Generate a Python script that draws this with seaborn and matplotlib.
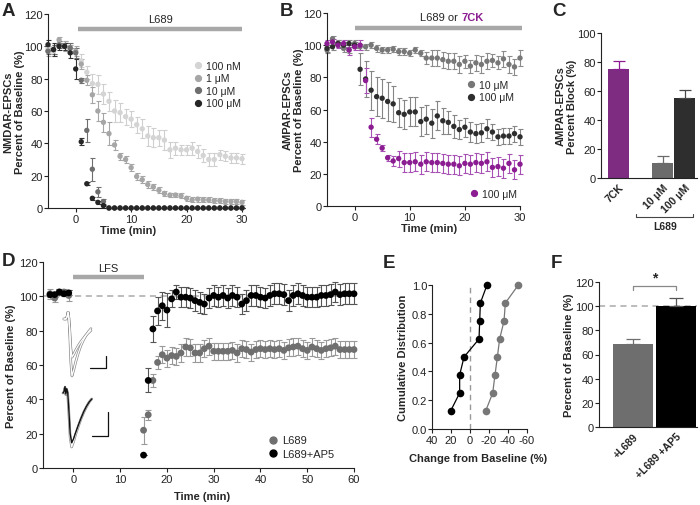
import numpy as np
import pandas as pd
import matplotlib
matplotlib.use("Agg")
import matplotlib.pyplot as plt
from matplotlib.lines import Line2D
from matplotlib.ticker import FormatStrFormatter
import seaborn as sns

# ---------------- data ----------------
t_A = list(range(-5, 31))
nmda_100nM = [99, 97, 101, 100, 98, 96, 91, 84, 77, 76.5, 70.5, 66, 60, 59, 56.5, 55, 51.5, 49,
              44.5, 43.5, 43.5, 42, 36, 37, 36, 36, 37, 35, 32.5, 30, 30, 33, 32, 31, 31, 30.5]
nmda_100nM_err = [3, 3, 2, 3, 3, 3, 4] + [4, 6, 6, 6, 6, 7, 6, 5, 5, 5, 6, 6, 6, 5, 6, 5, 4, 3, 3,
                                           4, 4, 4, 4, 4, 3, 3, 3, 3, 3]
nmda_1uM = [97, 98, 104, 100, 99, 97, 89, 79, 70, 60, 53, 46, 39, 32, 30, 25, 19.5, 17.5, 14.5,
            13, 11, 9, 8, 8, 7.5, 6, 5, 5.5, 5, 5, 4.5, 4.5, 4, 4, 4, 3.5]
nmda_1uM_err = [3, 3, 2, 3, 2, 3, 3] + [3, 5, 6, 6, 7, 3, 2] + [2] * 7 + [1.5] * 15
nmda_10uM = [97, 98, 101, 100, 99, 96, 79, 48, 24, 10, 4] + [0] * 25
nmda_10uM_err = [2, 3, 2, 2, 3, 3, 1.5, 7, 7, 3, 1.5] + [0] * 25
nmda_100uM = [101, 98, 100, 100, 96, 86, 41, 15, 6, 3.5, 1.5] + [0] * 25
nmda_100uM_err = [3, 4, 2, 2, 3, 6, 2, 1, 1, 1, 0.5] + [0] * 25
A_labels = ["100 nM", "1 μM", "10 μM", "100 μM"]

t_B = list(range(-5, 31))
ampa_10uM = [97, 104, 101, 98, 97, 101, 99, 99, 100, 98, 97, 97, 97.5, 96, 96, 95, 97, 95, 92, 92,
             92, 91, 90, 90, 88, 90, 87, 89, 88, 90, 90.5, 89, 91.5, 88, 86.5, 92]
ampa_10uM_err = [2] * 18 + [4, 5, 5, 5, 5, 5, 5, 4, 4, 5, 5, 5, 4, 4, 5, 5, 5, 5]
ampa_100uM = [98, 99, 101, 100, 101, 100, 85, 79, 72, 68, 67, 65, 63.5, 58, 57, 58.5, 58.5, 52.5,
              54, 51.5, 56, 53, 52, 49.5, 47.5, 49, 46, 45, 45.5, 48, 46, 43, 43.5, 43.5, 45, 43]
ampa_100uM_err = [2] * 6 + [10, 11, 12, 12, 12, 12, 11, 9, 9, 9, 9, 9, 9, 9, 9, 8, 7, 7, 6, 6,
                            6, 6, 6, 6, 5, 5, 5, 5, 5, 5]
ampa_7ck = [101, 102, 100, 101, 97, 99, 100, 78, 49, 41.5, 36, 30, 28, 29.5, 27, 27, 27.5, 26, 27.5,
            27, 27, 26.5, 26, 26, 25, 26.5, 26, 27, 26.5, 27.5, 24, 24.5, 23.5, 26.5, 22.5, 26]
ampa_7ck_err = [2, 2, 2, 2, 3, 2, 3] + [8, 6, 3, 2, 2, 3, 5] + [6] * 22

C_labels = ["7CK", "10 μM", "100 μM"]
C_block = [75, 10.5, 55]
C_err = [6, 4.5, 6]

t_D = [-5, -4, -3, -2, -1] + list(range(15, 61))
D_l689 = [101.5, 99, 102.5, 102.5, 100.5, 22, 31, 51, 61.5, 66, 64, 65.5, 65, 67, 70.5, 70, 67, 67,
          69.5, 71, 68, 68, 68, 68, 68.5, 67, 69.5, 69, 67.5, 69, 69.5, 69, 69.5, 69, 69.5, 68.5,
          70, 70.5, 71, 69.5, 68.5, 70.5, 69.5, 68.5, 69.5, 70, 71, 69, 69, 69, 69]
D_l689_err = [3, 2.5, 1.5, 2, 3] + [8, 3, 4, 4, 5] + [5] * 41
D_ap5 = [101, 101, 102.5, 101.5, 102, 7.5, 51, 81, 91.5, 94.5, 92, 98.5, 102.5, 99.5, 99.5, 99,
         97.5, 96.5, 95.5, 99, 100.5, 99.5, 100.5, 99, 100.5, 99.5, 95.5, 97.5, 100.5, 100.5, 99.5,
         99, 100.5, 101.5, 101.5, 101, 97.5, 100.5, 101.5, 100.5, 99.5, 99.5, 99.5, 100.5, 100.5,
         101, 102.5, 101, 101.5, 101.5, 101.5]
D_ap5_err = [1.5] * 5 + [0, 7, 7.5, 8, 8, 10, 5, 4] + [6] * 38
D_labels = ["L689", "L689+AP5"]

E_cum = [0.125, 0.25, 0.375, 0.5, 0.625, 0.75, 0.875, 1.0]
E_ap5 = [20.4, 10.9, 10.9, 6.3, -9.5, -10.2, -10.9, -17.9]
E_l689 = [-16.5, -23.9, -26.3, -28.8, -31.2, -35.8, -37.2, -50.9]

F_labels = ["+L689", "+L689 +AP5"]
F_vals = [68.5, 100.5]
F_err = [4, 6]

# example traces (inset, normalised amplitude)
tr1_t = [3.0, 4.6, 5.6, 6.2, 6.8, 7.4, 8.3, 9.2, 10.5, 12, 14, 16, 18, 20, 22, 23.8]
tr1_big = [0, 0, 0.05, 0.12, 0.02, -0.2, -0.75, -1.0, -0.9, -0.76, -0.6, -0.47, -0.37, -0.29, -0.22, -0.17]
tr1_small = [0, 0, 0.05, 0.12, 0.02, -0.15, -0.5, -0.67, -0.62, -0.55, -0.47, -0.4, -0.34, -0.28, -0.24, -0.2]
tr2_t = [3.7, 4.5, 5.2, 5.8, 6.5, 7.2, 8, 9, 10.1, 11.5, 13, 15, 17, 19, 21, 23, 25]
tr2_black = [0, 0.03, 0.12, -0.02, 0.08, 0.0, -0.3, -0.75, -0.92, -0.85, -0.74, -0.6, -0.47, -0.35, -0.25, -0.17, -0.11]
tr2_gray = [0, 0.02, 0.1, -0.03, 0.06, -0.02, -0.35, -0.82, -1.0, -0.9, -0.77, -0.62, -0.48, -0.36, -0.26, -0.17, -0.11]

# ---------------- style ----------------
sns.set_style("ticks")
plt.rcParams['font.family'] = ['Liberation Sans', 'DejaVu Sans']
plt.rcParams['axes.unicode_minus'] = False
plt.rcParams.update({
    'axes.linewidth': 0.8, 'axes.edgecolor': '#222222',
    'xtick.major.width': 0.8, 'ytick.major.width': 0.8,
    'xtick.major.size': 3, 'ytick.major.size': 3,
    'xtick.labelsize': 8, 'ytick.labelsize': 8,
    'xtick.major.pad': 1.2, 'ytick.major.pad': 0.6,
    'xtick.color': '#222222', 'ytick.color': '#222222',
})

PURPLE = '#8b1c91'
W, H = 700, 506
fig = plt.figure(figsize=(7, 5.06), dpi=100)


def add_ax(l, t, r, b):
    return fig.add_axes([l / W, 1 - b / H, (r - l) / W, (b - t) / H])


def series(ax, x, y, err, color, ecolor, s, cap=1.8):
    ax.errorbar(x, y, yerr=err, fmt='none', ecolor=ecolor, elinewidth=0.8, capsize=cap,
                capthick=0.8, zorder=2, clip_on=False)
    sns.scatterplot(x=x, y=y, color=color, s=s, edgecolor='none', linewidth=0, ax=ax,
                    zorder=3, clip_on=False)


def style(ax):
    sns.despine(ax=ax)
    ax.tick_params(direction='out')


def legend(ax, labels, colors, anchor, ms=4.2, fs=7.5, spacing=0.25):
    handles = [Line2D([], [], ls='none', marker='o', ms=ms, mfc=c, mec=c) for c in colors]
    return ax.legend(handles, labels, loc='upper left', bbox_to_anchor=anchor, frameon=False,
                     handlelength=0.6, handletextpad=0.5, labelspacing=spacing,
                     borderaxespad=0, borderpad=0, fontsize=fs)


def ylab(ax, text, xpos):
    ax.set_ylabel(text, fontsize=8, fontweight='bold', linespacing=1.15)
    ax.yaxis.set_label_coords(xpos, 0.5)


def letter(x, y, s):
    fig.text(x / W, 1 - y / H, s, fontsize=13.5, fontweight='bold', va='center', ha='left')


# ---------------- A ----------------
axA = add_ax(48, 15, 242, 209)
A_cols = ['#d4d4d4', '#a6a6a6', '#6e6e6e', '#262626']
A_ecols = ['#cfcfcf', '#a6a6a6', '#6e6e6e', '#333333']
for vals, err, c, ec in zip([nmda_100nM, nmda_1uM, nmda_10uM, nmda_100uM],
                            [nmda_100nM_err, nmda_1uM_err, nmda_10uM_err, nmda_100uM_err],
                            A_cols, A_ecols):
    series(axA, t_A, vals, err, c, ec, 15)
axA.set_xlim(-5, 30)
axA.set_ylim(0, 120)
axA.set_xticks([0, 10, 20, 30])
axA.set_yticks(range(0, 121, 20))
style(axA)
axA.plot([0.5, 30], [111, 111], color='#a8a8a8', lw=3.2, solid_capstyle='butt', clip_on=False)
axA.text(15.3, 117, "L689", ha='center', va='center', fontsize=8)
legend(axA, A_labels, A_cols, (0.755, 0.76))
ylab(axA, "NMDAR-EPSCs\nPercent of Baseline (%)", -0.12)
axA.set_xlabel("Time (min)", fontsize=8, fontweight='bold')
axA.xaxis.set_label_coords(0.415, -0.09)
letter(2, 12, "A")

# ---------------- B ----------------
axB = add_ax(327, 14, 520, 207)
series(axB, t_B, ampa_10uM, ampa_10uM_err, '#777777', '#8c8c8c', 15)
series(axB, t_B, ampa_100uM, ampa_100uM_err, '#2e2e2e', '#858585', 15)
series(axB, t_B, ampa_7ck, ampa_7ck_err, PURPLE, '#a651b3', 15)
axB.set_xlim(-5, 30)
axB.set_ylim(0, 120)
axB.set_xticks([0, 10, 20, 30])
axB.set_yticks(range(0, 121, 20))
style(axB)
axB.plot([0, 30.3], [110.7, 110.7], color='#a8a8a8', lw=3.2, solid_capstyle='butt', clip_on=False)
axB.text(19.3, 117.5, "L689 or ", ha='right', va='center', fontsize=8)
axB.text(19.4, 117.5, "7CK", ha='left', va='center', fontsize=8, fontweight='bold', color=PURPLE)
lb1 = legend(axB, ["10 μM", "100 μM"], ['#777777', '#2e2e2e'], (0.73, 0.655))
axB.add_artist(lb1)
legend(axB, ["100 μM"], [PURPLE], (0.745, 0.09))
ylab(axB, "AMPAR-EPSCs\nPercent of Baseline (%)", -0.12)
axB.set_xlabel("Time (min)", fontsize=8, fontweight='bold')
axB.xaxis.set_label_coords(0.53, -0.09)
letter(280, 12, "B")

# ---------------- C ----------------
axC = add_ax(601, 34, 697, 179)
dfC = pd.DataFrame({"cond": C_labels, "block": C_block})
C_pal = {"7CK": PURPLE, "10 μM": '#6b6b6b', "100 μM": '#2e2e2e'}
sns.barplot(data=dfC, x="cond", y="block", hue="cond", order=["7CK", "", "10 μM", "100 μM"],
            hue_order=C_labels, palette=C_pal, legend=False, errorbar=None, width=0.95,
            edgecolor='none', ax=axC)
bars = sorted([p for p in axC.patches if p.get_height() > 0], key=lambda p: p.get_x())
bx = [p.get_x() + p.get_width() / 2 for p in bars]
for x, v, e, c in zip(bx, C_block, C_err, [PURPLE, '#6b6b6b', '#4a4a4a']):
    axC.errorbar([x], [v], yerr=[[0], [e]], fmt='none', ecolor=c, elinewidth=0.9, capsize=4,
                 capthick=0.9, zorder=3)
axC.set_xlim(-0.8, 3.56)
axC.set_ylim(0, 100)
axC.set_yticks(range(0, 101, 20))
axC.set_xticks(bx)
axC.set_xticklabels(C_labels, rotation=45, ha='right', rotation_mode='anchor',
                    fontsize=7.5, fontweight='bold')
axC.tick_params(axis='x', length=0, pad=3)
style(axC)
axC.set_xlabel("")
ylab(axC, "AMPAR-EPSCs\nPercent Block (%)", -0.25)
trC = axC.get_xaxis_transform()
axC.plot([0.77, 0.77, 3.4, 3.4], [-0.248, -0.269, -0.269, -0.248], color='#444444', lw=0.8,
         transform=trC, clip_on=False)
axC.text(2.1, -0.295, "L689", ha='center', va='top', fontsize=7.5, fontweight='bold',
         transform=trC)
letter(552, 12, "C")

# ---------------- D ----------------
axD = add_ax(43, 263, 354, 469)
axD.axhline(100, color='#aaaaaa', lw=1.1, ls=(0, (4, 3)), zorder=1)
series(axD, t_D, D_l689, D_l689_err, '#6f6f6f', '#9a9a9a', 24, cap=2)
series(axD, t_D, D_ap5, D_ap5_err, '#000000', '#555555', 24, cap=2)
axD.set_xlim(-6.5, 60)
axD.set_ylim(0, 120)
axD.set_xticks(range(0, 61, 10))
axD.set_yticks(range(0, 121, 20))
style(axD)
axD.plot([0, 15], [111.4, 111.4], color='#a8a8a8', lw=3.2, solid_capstyle='butt', clip_on=False)
axD.text(7.5, 116.5, "LFS", ha='center', va='center', fontsize=8)
legend(axD, D_labels, ['#6f6f6f', '#000000'], (0.73, 0.158), ms=5, fs=8, spacing=0.35)
ylab(axD, "Percent of Baseline (%)", -0.086)
axD.set_xlabel("Time (min)", fontsize=8, fontweight='bold')
axD.xaxis.set_label_coords(0.51, -0.11)
letter(2, 262, "D")

# insets with example traces
in1 = add_ax(60, 312, 112, 382)
in1.set_xlim(0, 40)
in1.set_ylim(-1.088, 0.14)
in1.axis('off')
for tr in (tr1_big, tr1_small):
    in1.plot(tr1_t, tr, color='#8a8a8a', lw=1.9, solid_joinstyle='round')
for tr in (tr1_big, tr1_small):
    in1.plot(tr1_t, tr, color='white', lw=0.9, solid_joinstyle='round')
in1.plot([23, 35.4, 35.4], [-0.86, -0.86, -0.65], color='#111111', lw=0.9)

in2 = add_ax(58, 385, 112, 455)
in2.set_xlim(0, 40)
in2.set_ylim(-1.13, 0.167)
in2.axis('off')
in2.plot(tr2_t, tr2_gray, color='#8a8a8a', lw=1.9, solid_joinstyle='round')
in2.plot(tr2_t, tr2_gray, color='white', lw=0.9, solid_joinstyle='round')
in2.plot(tr2_t, tr2_black, color='#111111', lw=1.0, solid_joinstyle='round')
in2.plot([25.2, 37, 37], [-0.80, -0.80, -0.35], color='#111111', lw=0.9)

# ---------------- E ----------------
axE = add_ax(432, 286, 527, 430)
axE.axvline(0, color='#999999', lw=1.0, ls=(0, (4, 3)), zorder=1)
sns.lineplot(x=E_ap5, y=E_cum, sort=False, estimator=None, color='#000000', lw=0.9,
             marker='o', markersize=5.5, markeredgewidth=0, ax=axE)
sns.lineplot(x=E_l689, y=E_cum, sort=False, estimator=None, color='#777777', lw=0.9,
             marker='o', markersize=5.5, markeredgewidth=0, ax=axE)
axE.set_xlim(40, -60)
axE.set_ylim(0, 1.0)
axE.set_xticks([40, 20, 0, -20, -40, -60])
axE.set_yticks([0, 0.2, 0.4, 0.6, 0.8, 1.0])
axE.yaxis.set_major_formatter(FormatStrFormatter('%.1f'))
style(axE)
for ln in axE.lines:
    ln.set_clip_on(False)
ylab(axE, "Cumulative Distribution", -0.255)
axE.set_xlabel("Change from Baseline (%)", fontsize=8, fontweight='bold')
axE.xaxis.set_label_coords(0.48, -0.165)
letter(383, 263, "E")

# ---------------- F ----------------
axF = add_ax(599, 283, 697, 428)
axF.axhline(100, color='#aaaaaa', lw=1.1, ls=(0, (4, 3)), zorder=0.5, xmax=1.0)
dfF = pd.DataFrame({"cond": F_labels, "val": F_vals})
sns.barplot(data=dfF, x="cond", y="val", hue="cond", palette={"+L689": '#6e6e6e', "+L689 +AP5": '#000000'},
            legend=False, errorbar=None, width=0.93, edgecolor='none', ax=axF, zorder=1)
barsF = sorted([p for p in axF.patches if p.get_height() > 0], key=lambda p: p.get_x())
fx = [p.get_x() + p.get_width() / 2 for p in barsF]
for x, v, e, c in zip(fx, F_vals, F_err, ['#6e6e6e', '#555555']):
    axF.errorbar([x], [v], yerr=[[0], [e]], fmt='none', ecolor=c, elinewidth=0.9, capsize=5,
                 capthick=0.9, zorder=3)
axF.set_xlim(-0.8, 1.5)
axF.set_ylim(0, 120)
axF.set_yticks(range(0, 121, 20))
axF.set_xticks(fx)
axF.set_xticklabels(F_labels, rotation=45, ha='right', rotation_mode='anchor',
                    fontsize=7.5, fontweight='bold')
axF.tick_params(axis='x', length=0, pad=3)
style(axF)
axF.set_xlabel("")
ylab(axF, "Percent of Baseline (%)", -0.25)
axF.plot([fx[0], fx[0], fx[1], fx[1]], [113.5, 117, 117, 113.5], color='#888888', lw=0.9,
         clip_on=False)
axF.text((fx[0] + fx[1]) / 2, 118, "*", ha='center', va='bottom', fontsize=10,
         fontweight='bold', clip_on=False)
letter(551, 263, "F")

fig.savefig("out.png", dpi=100)
